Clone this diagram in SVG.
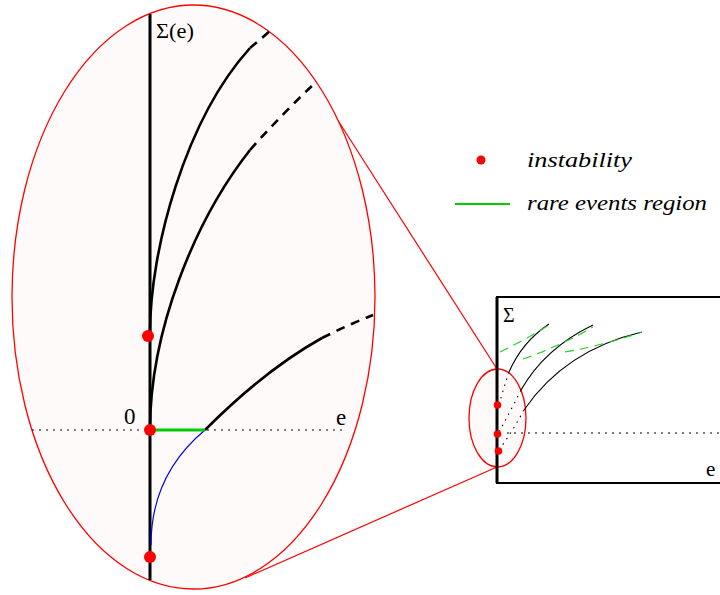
<svg xmlns="http://www.w3.org/2000/svg" width="720" height="595" viewBox="0 0 720 595">
<style>
.ell{fill:#fffafa;stroke:#ff0000;stroke-width:1.3}
.zoom{stroke:#ff0000;stroke-width:1.2;fill:none}
.thick{stroke:#000;stroke-width:3;fill:none}
.curve{stroke:#000;stroke-width:2.6;fill:none;stroke-linecap:butt}
.dash{stroke:#000;stroke-width:2.6;fill:none;stroke-dasharray:9 7}
.thin{stroke:#000;stroke-width:1.1;fill:none}
.dot{stroke:#000;stroke-width:1.1;fill:none;stroke-dasharray:1.5 5}
.gdash{stroke:#22cc22;stroke-width:1.1;fill:none;stroke-dasharray:9 6}
.axisdot{stroke:#000;stroke-width:1.1;fill:none;stroke-dasharray:2 5}
.pt{fill:#ff0000}
text{font-family:"Liberation Serif","DejaVu Serif",serif;fill:#000}
.it{font-style:italic}
</style>
<rect width="720" height="595" fill="#fff"/>
<g id="zoom-lines">
<line class="zoom" x1="330" y1="108" x2="497" y2="369"/>
<line class="zoom" x1="245" y1="578" x2="497" y2="467"/>
</g>
<g id="inset-box">
<rect x="497" y="297" width="240" height="186" fill="#fff" stroke="#000" stroke-width="2"/>
<text x="503" y="322" font-size="20">Σ</text>
<text x="706" y="476" font-size="21">e</text>
</g>
<g id="inset-ellipse">
<ellipse class="ell" cx="497.5" cy="418" rx="28.5" ry="49"/>
</g>
<g id="inset-curves">
<line class="thick" x1="497" y1="297" x2="497" y2="483" stroke-width="2.6"/>
<line class="axisdot" x1="507" y1="433" x2="720" y2="433"/>
<path class="thin" d="M509,372 Q522,342 549,324"/>
<path class="thin" d="M521,390 Q545,348 593,325"/>
<path class="thin" d="M524,410 Q565,350 642,332"/>
<path class="dot" d="M509,372 Q503,390 499,405"/>
<path class="dot" d="M521,390 Q510,412 499,432"/>
<path class="dot" d="M524,410 Q512,432 499,450"/>
<path class="gdash" d="M500,352 Q525,340 549,325"/>
<path class="gdash" d="M523,359 Q560,346 593,327"/>
<path class="gdash" d="M565,352 Q605,345 642,332"/>
<circle class="pt" cx="497.5" cy="405" r="3.8"/>
<circle class="pt" cx="497.5" cy="434" r="3.8"/>
<circle class="pt" cx="498.5" cy="451" r="3.8"/>
</g>
<g id="main-ellipse">
<ellipse class="ell" cx="193.5" cy="297" rx="181.5" ry="292"/>
</g>
<g id="main-curves">
<line class="axisdot" x1="32" y1="430" x2="345" y2="430" stroke-width="1.2"/>
<line class="thick" x1="150" y1="14" x2="150" y2="580"/>
<path class="curve" d="M150,333 C150,250 185,120 250,48"/>
<path class="dash" d="M250,48 L270,31"/>
<path class="curve" d="M150,430 C150,330 195,220 250,150"/>
<path class="dash" d="M250,150 Q282,114 315,83"/>
<path class="curve" d="M205,430 Q266,369 322,338"/>
<path class="dash" d="M322,338 Q348,325 373,315"/>
<path d="M205,430 C175,455 151,490 151,545" stroke="#0000ff" stroke-width="1.2" fill="none"/>
<line x1="150" y1="430" x2="205" y2="430" stroke="#00cc00" stroke-width="3"/>
<circle class="pt" cx="148" cy="336" r="6"/>
<circle class="pt" cx="150" cy="430" r="6"/>
<circle class="pt" cx="150" cy="557" r="6"/>
<text x="156" y="38" font-size="21" textLength="38" lengthAdjust="spacingAndGlyphs">Σ(e)</text>
<text x="124" y="424" font-size="23">0</text>
<text x="336" y="425" font-size="23">e</text>
</g>
<g id="legend">
<circle class="pt" cx="481" cy="160" r="4.5"/>
<text class="it" x="527" y="167" font-size="22" textLength="105" lengthAdjust="spacingAndGlyphs">instability</text>
<line x1="455" y1="204" x2="510" y2="204" stroke="#00cc00" stroke-width="2"/>
<text class="it" x="527" y="210" font-size="22" textLength="180" lengthAdjust="spacingAndGlyphs">rare events region</text>
</g>
</svg>
